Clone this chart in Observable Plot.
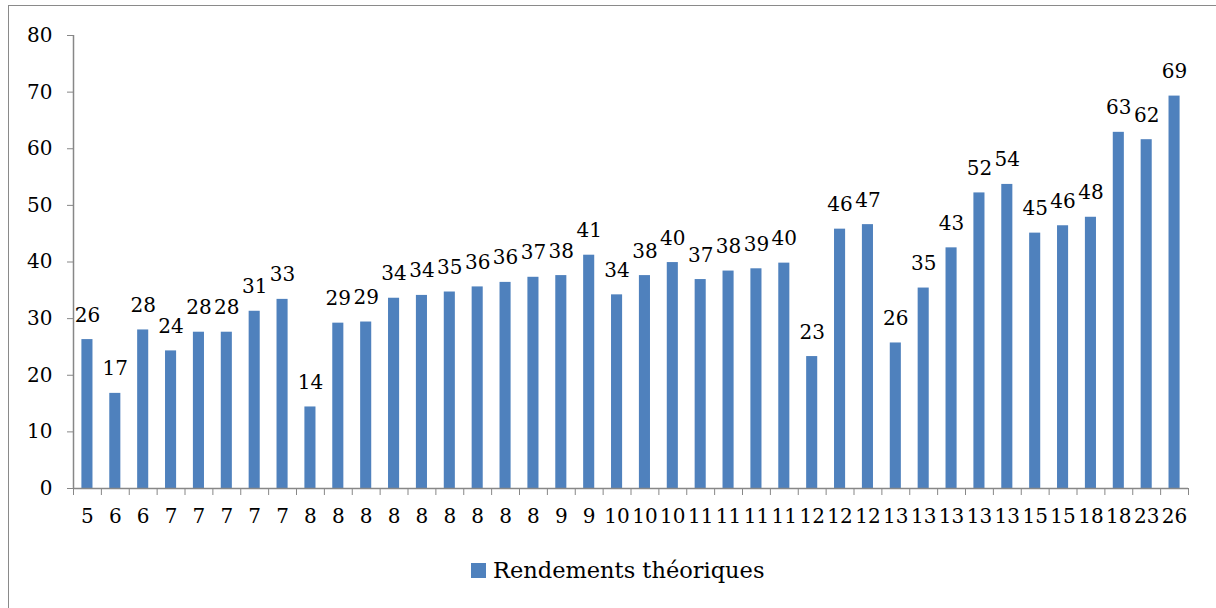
<!DOCTYPE html>
<html>
<head>
<meta charset="utf-8">
<script src="https://cdn.jsdelivr.net/npm/d3@7"></script>
<script src="https://cdn.jsdelivr.net/npm/@observablehq/plot@0.6"></script>
<style>
  html, body { margin: 0; padding: 0; background: #fff; overflow: hidden; }
  #wrap { position: relative; width: 1216px; height: 608px; }
  #frame { position: absolute; left: 8px; top: 5px; width: 1230px; height: 640px; border: 1.5px solid #8a8a8a; box-sizing: border-box; }
  #chart { position: absolute; left: 0; top: 0; }
  #legend { position: absolute; left: 471px; top: 557px; display: flex; align-items: center; font-family: "DejaVu Serif", serif; font-size: 22.5px; color: #000; }
  #legend .sw { width: 15px; height: 15px; background: #4F81BD; margin-right: 7px; }
</style>
</head>
<body>
<div id="wrap">
  <div id="frame"></div>
  <div id="chart"></div>
  <div id="legend"><div class="sw"></div><span>Rendements théoriques</span></div>
</div>
<script>
const xLabels = ["5","6","6","7","7","7","7","7","8","8","8","8","8","8","8","8","8","9","9","10","10","10","11","11","11","11","12","12","12","13","13","13","13","13","15","15","18","18","23","26"];
const values = [26.3,16.8,28.0,24.3,27.6,27.6,31.3,33.4,14.4,29.2,29.4,33.6,34.1,34.7,35.6,36.4,37.3,37.6,41.2,34.2,37.6,39.9,36.9,38.4,38.8,39.8,23.3,45.8,46.6,25.7,35.4,42.5,52.2,53.7,45.1,46.4,47.9,62.9,61.6,69.3];
const yTicks = [0,10,20,30,40,50,60,70,80];
const seriesName = "Rendements théoriques";
const barColor = "#4F81BD";
const axisColor = "#878787";

const data = values.map((v, i) => ({i, v, label: xLabels[i], r: Math.round(v)}));
const n = values.length;

const chart = Plot.plot({
  width: 1216,
  height: 540,
  marginLeft: 73,
  marginRight: 28,
  marginTop: 35,
  marginBottom: 52,
  style: {fontFamily: "DejaVu Serif, serif", fontSize: "20px", color: "#000", background: "transparent", overflow: "visible"},
  x: {domain: [0, n], axis: null, label: null},
  y: {domain: [0, 80], axis: null, label: null},
  marks: [
    Plot.rectY(data, {x1: "i", x2: d => d.i + 1, y: "v", fill: barColor, insetLeft: 8.4, insetRight: 8.4}),
    Plot.text(data, {x: d => d.i + 0.5, y: "v", text: d => String(d.r), lineAnchor: "bottom", dy: -18, fontSize: 20}),
    Plot.axisY({ticks: yTicks, tickSize: 6, tickPadding: 15, stroke: axisColor, tickFormat: d => String(d), fontSize: 20, label: null}),
    Plot.axisX({ticks: d3.range(0, n + 1), tickSize: 7, tickFormat: () => "", stroke: axisColor, label: null}),
    Plot.axisX({ticks: d3.range(0, n).map(i => i + 0.5), tickSize: 0, tickPadding: 20, tickFormat: d => xLabels[Math.floor(d)], fontSize: 20, label: null}),
    Plot.ruleY([0], {stroke: axisColor, strokeWidth: 1.5}),
    Plot.ruleX([0], {stroke: axisColor, strokeWidth: 1.5})
  ]
});
document.getElementById("chart").appendChild(chart);
</script>
</body>
</html>
